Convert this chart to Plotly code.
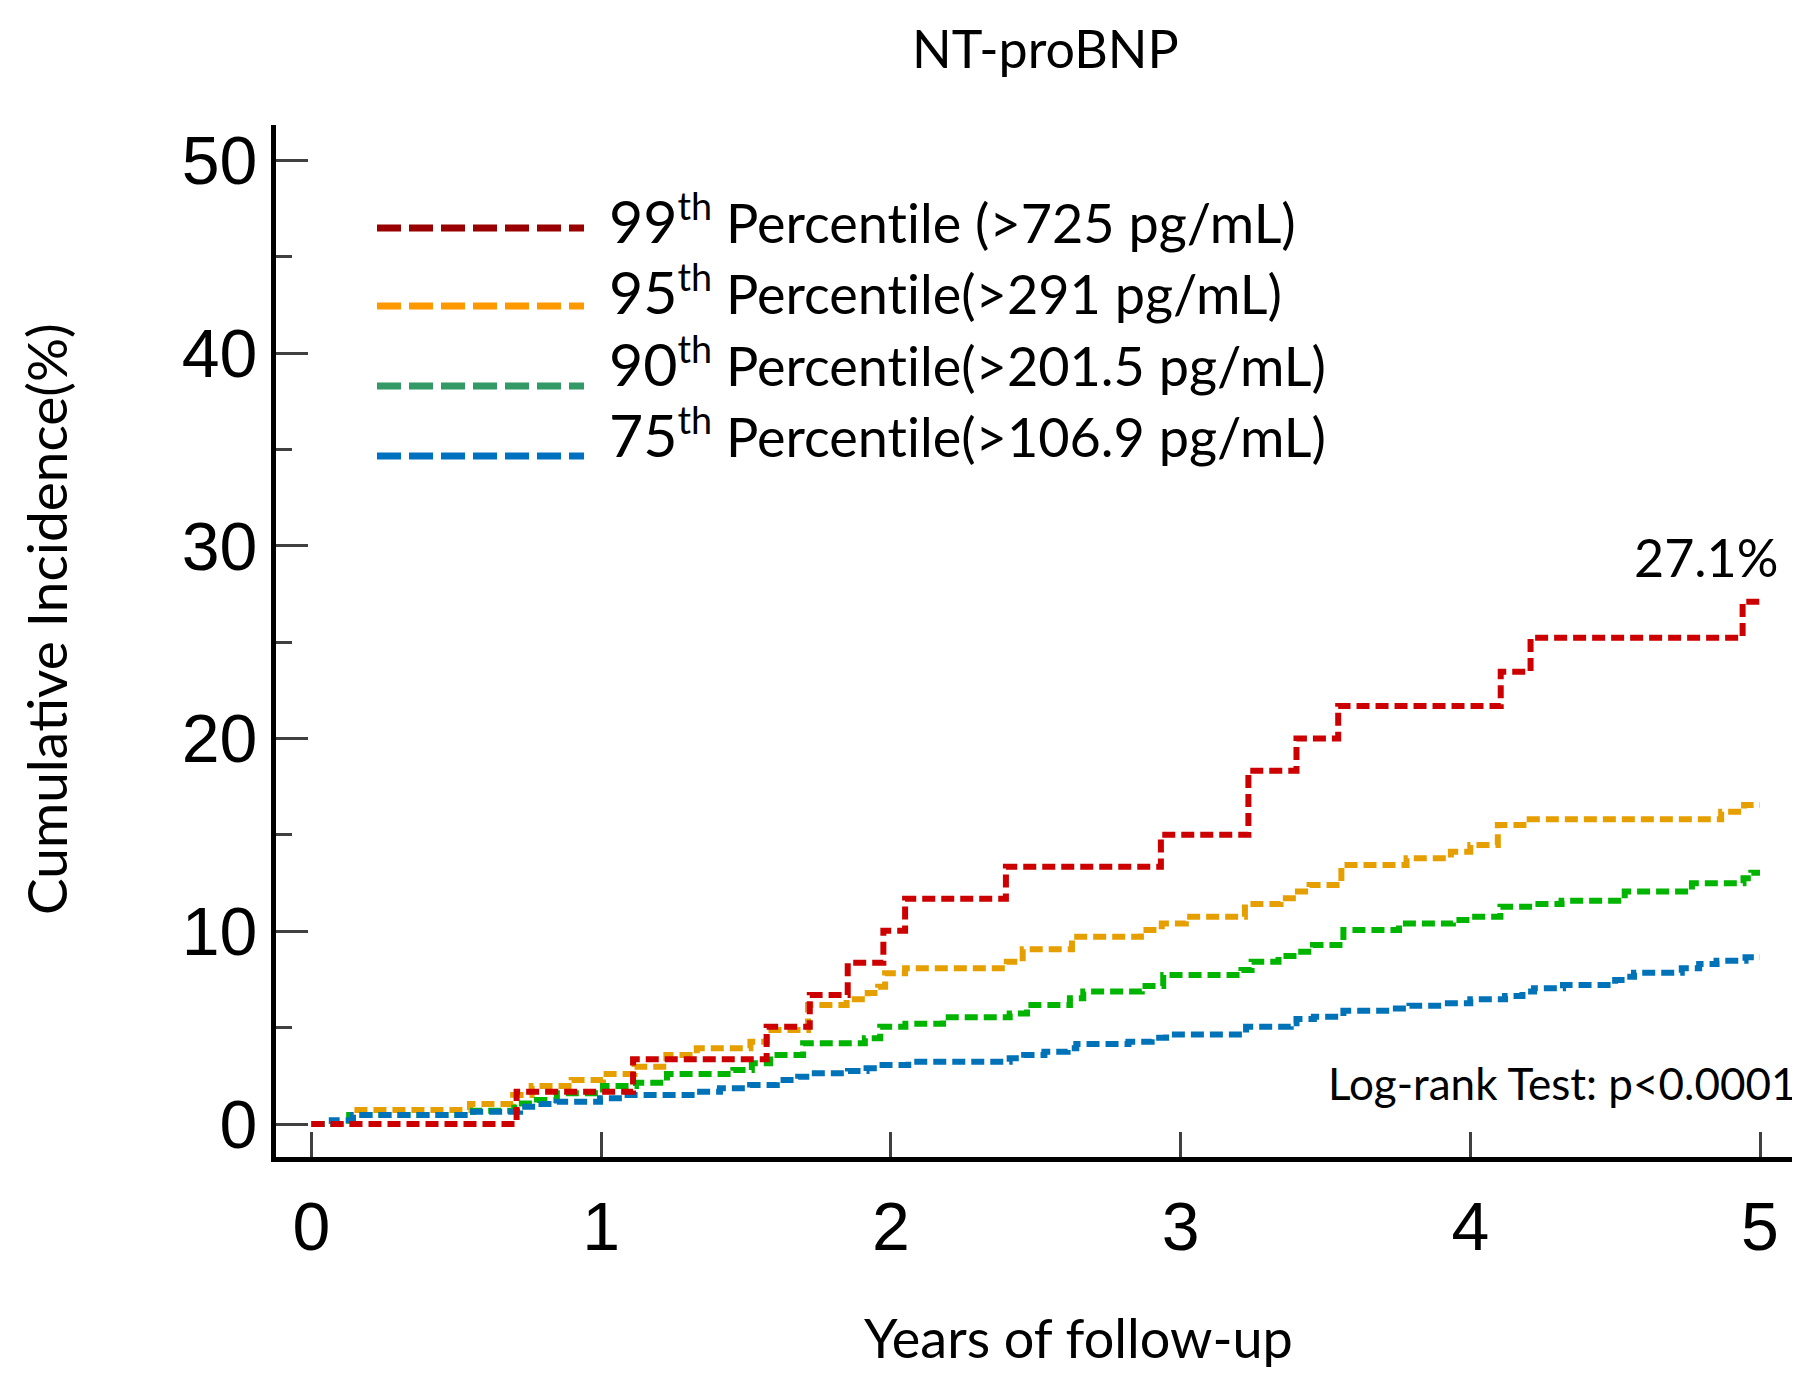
import plotly.graph_objects as go

# Kaplan-Meier style cumulative incidence (%)
p99_t = [0, 0.708, 1.11, 1.571, 1.72, 1.851, 1.974, 2.049, 2.397, 2.932, 3.234, 3.40, 3.544, 4.105, 4.208, 4.940, 5.0]
p99_y = [0, 1.68, 3.36, 5.05, 6.69, 8.37, 10.03, 11.69, 13.35, 15.01, 18.33, 20.01, 21.69, 23.47, 25.24, 27.1, 27.1]

p95_t = [0, 0.143, 0.547, 0.696, 0.76, 0.898, 1.006, 1.115, 1.225, 1.33,
         1.515, 1.572, 1.714, 1.847, 1.92, 1.956, 1.98, 2.049, 2.40, 2.455,
         2.625, 2.863, 2.935, 3.018, 3.222, 3.345, 3.405, 3.445, 3.555, 3.78,
         3.933, 4.0, 4.095, 4.205, 4.866, 4.945, 5.0]
p95_y = [0, 0.73, 1.04, 1.5, 1.97, 2.28, 2.59, 2.97, 3.58, 3.93,
         4.27, 4.88, 6.18, 6.47, 6.8, 7.12, 7.82, 8.08, 8.42, 9.07,
         9.72, 10.07, 10.41, 10.76, 11.42, 11.71, 12.06, 12.4, 13.44, 13.79,
         14.13, 14.48, 15.52, 15.81, 16.21, 16.55, 16.55]

p90_t = [0, 0.13, 0.558, 0.70, 0.778, 0.847, 1.006, 1.12, 1.227, 1.456,
         1.52, 1.583, 1.697, 1.91, 1.963, 2.05, 2.18, 2.41, 2.47, 2.618,
         2.664, 2.866, 2.94, 3.21, 3.245, 3.338, 3.40, 3.457, 3.562, 3.754,
         3.94, 3.999, 4.104, 4.217, 4.315, 4.533, 4.765, 4.943, 4.97, 5.0]
p90_y = [0, 0.47, 0.69, 1.07, 1.25, 1.59, 1.97, 2.14, 2.59, 2.8,
         3.15, 3.58, 4.19, 4.45, 5.05, 5.2, 5.54, 5.74, 6.18, 6.52,
         6.87, 7.16, 7.73, 7.99, 8.42, 8.72, 8.94, 9.29, 10.07, 10.41,
         10.59, 10.76, 11.28, 11.42, 11.59, 12.06, 12.49, 12.75, 13.04, 13.04]

p75_t = [0, 0.07, 0.143, 0.558, 0.72, 0.78, 0.847, 0.996, 1.076, 1.33,
         1.41, 1.514, 1.606, 1.68, 1.725, 1.852, 1.916, 1.956, 2.06, 2.41,
         2.46, 2.53, 2.61, 2.64, 2.82, 2.90, 2.95, 3.226, 3.38, 3.40,
         3.46, 3.562, 3.73, 3.79, 3.90, 4.0, 4.12, 4.18, 4.22, 4.32,
         4.50, 4.54, 4.565, 4.73, 4.79, 4.85, 4.95, 5.0]
p75_y = [0, 0.2, 0.47, 0.64, 0.9, 1.04, 1.16, 1.33, 1.5, 1.68,
         1.85, 2.02, 2.28, 2.45, 2.63, 2.75, 2.89, 3.06, 3.23, 3.41,
         3.58, 3.75, 3.93, 4.15, 4.27, 4.48, 4.65, 5.05, 5.23, 5.45,
         5.57, 5.88, 6.0, 6.14, 6.26, 6.47, 6.64, 6.87, 7.04, 7.21,
         7.47, 7.64, 7.85, 8.08, 8.3, 8.47, 8.65, 8.65]

legend_pct = ["99", "95", "90", "75"]
legend_cut = [" (&gt;725 pg/mL)", "(&gt;291 pg/mL)", "(&gt;201.5 pg/mL)", "(&gt;106.9 pg/mL)"]
curve_colors = ["#CC0000", "#E69F00", "#00B400", "#0072B8"]
legend_colors = ["#990000", "#FF9900", "#339966", "#0070C0"]

ZWNJ = "\u200c"  # stops Lato from joining "ti"

# pixel layout measured on the 1800x1385 page (the page body adds an 8px margin)
OFF = 8
PAGE_W, PAGE_H = 1800, 1385
L, R, T, B = 276, 1800, 125, 1157


def px(x):
    return (x - L) / (R - L)


def py(y):
    return (B - y) / (B - T)


TXT = "Lato"

fig = go.Figure()
series = [(p95_t, p95_y, 1), (p90_t, p90_y, 2), (p75_t, p75_y, 3), (p99_t, p99_y, 0)]
for t, y, i in series:
    fig.add_trace(go.Scatter(
        x=t, y=y, mode="lines", line_shape="hv",
        line=dict(color=curve_colors[i], width=6, dash="13px,6px"),
        showlegend=False, hoverinfo="skip",
    ))

shapes = []
annotations = []
line_y = [228, 306, 386, 456]
text_y = [219, 291, 362, 433]
for i in range(4):
    shapes.append(dict(type="line", xref="paper", yref="paper",
                       x0=px(377), x1=px(584), y0=py(line_y[i]), y1=py(line_y[i]),
                       line=dict(color=legend_colors[i], width=7, dash="24px,8px")))
    lab = ("<span style='font-size:59px'>" + legend_pct[i] + "</span><sup>th</sup> Percent"
           + ZWNJ + "ile" + legend_cut[i])
    annotations.append(dict(text=lab, xref="paper", yref="paper", x=px(607), y=py(text_y[i]),
                            xanchor="left", yanchor="middle", showarrow=False,
                            font=dict(family=TXT, size=54, color="black")))

annotations += [
    dict(text="NT-proBNP", xref="paper", yref="paper", x=px(1045), y=py(48),
         xanchor="center", yanchor="middle", showarrow=False,
         font=dict(family=TXT, size=52, color="black")),
    dict(text="27.1%", xref="paper", yref="paper", x=px(1780), y=py(557),
         xanchor="right", yanchor="middle", showarrow=False,
         font=dict(family=TXT, size=52, color="black")),
    dict(text="Log-rank Test: p&lt;0.0001", xref="paper", yref="paper", x=px(1799), y=py(1083),
         xanchor="right", yanchor="middle", showarrow=False,
         font=dict(family=TXT, size=44, color="black")),
    dict(text="Cumula" + ZWNJ + "tive Incidence(%)", xref="paper", yref="paper", x=px(46), y=py(619),
         xanchor="center", yanchor="middle", showarrow=False, textangle=-90,
         font=dict(family=TXT, size=55, color="black")),
    dict(text="Years of follow-up", xref="paper", yref="paper", x=px(1078), y=py(1337),
         xanchor="center", yanchor="middle", showarrow=False,
         font=dict(family=TXT, size=54, color="black")),
]

x_per = 289.7
y_per = 19.27
x_zero, y_zero = 311.5, 1124

fig.update_layout(
    width=PAGE_W - OFF, height=PAGE_H - OFF,
    margin=dict(l=L - OFF, r=PAGE_W - R, t=T - OFF, b=PAGE_H - B, pad=0),
    plot_bgcolor="white", paper_bgcolor="white",
    shapes=shapes, annotations=annotations,
    xaxis=dict(range=[(L - x_zero) / x_per, (R - x_zero) / x_per],
               tickvals=[0, 1, 2, 3, 4, 5], ticks="inside", ticklen=25, tickwidth=3,
               tickcolor="#404040", showline=True, linewidth=5, linecolor="black",
               showgrid=False, zeroline=False, ticklabelstandoff=6,
               tickfont=dict(family="Liberation Sans", size=68, color="black")),
    yaxis=dict(range=[(y_zero - B) / y_per, (y_zero - T) / y_per],
               tickvals=[0, 10, 20, 30, 40, 50], ticks="inside", ticklen=32, tickwidth=3,
               tickcolor="#404040", showline=True, linewidth=5, linecolor="black",
               showgrid=False, zeroline=False, ticklabelstandoff=0,
               minor=dict(tickvals=[5, 15, 25, 35, 45], ticks="inside", ticklen=16,
                          tickwidth=3, tickcolor="#404040"),
               tickfont=dict(family="Liberation Sans", size=68, color="black")),
)

fig.write_html("out.html")
